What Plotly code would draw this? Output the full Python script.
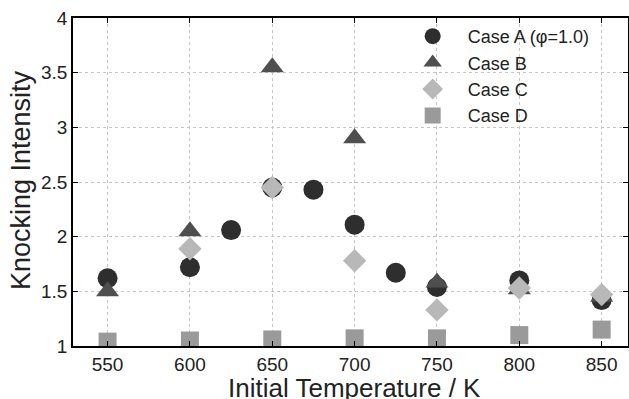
import plotly.graph_objects as go

# Data
temp_a = [550, 600, 625, 650, 675, 700, 725, 750, 800, 850]
case_a = [1.62, 1.72, 2.06, 2.45, 2.43, 2.11, 1.67, 1.54, 1.60, 1.42]

temp_b = [550, 600, 650, 700, 750, 800, 850]
case_b = [1.50, 2.05, 3.55, 2.90, 1.58, 1.52, 1.45]

temp_c = [600, 650, 700, 750, 800, 850]
case_c = [1.89, 2.45, 1.78, 1.33, 1.53, 1.47]

temp_d = [550, 600, 650, 700, 750, 800, 850]
case_d = [1.04, 1.05, 1.06, 1.07, 1.07, 1.10, 1.15]

x_ticks = [550, 600, 650, 700, 750, 800, 850]
y_ticks = [1, 1.5, 2, 2.5, 3, 3.5, 4]
y_tick_labels = ["1", "1.5", "2", "2.5", "3", "3.5", "4"]

FONT = "Liberation Sans, Arial, sans-serif"

fig = go.Figure()
fig.add_trace(go.Scatter(x=temp_a, y=case_a, mode="markers", name="Case A (φ=1.0)",
                         marker=dict(symbol="circle", size=20, color="#2e2e2e")))
fig.add_trace(go.Scatter(x=temp_b, y=case_b, mode="markers", name="Case B",
                         marker=dict(symbol="triangle-up", size=20, color="#4f4f4f")))
fig.add_trace(go.Scatter(x=temp_c, y=case_c, mode="markers", name="Case C",
                         marker=dict(symbol="diamond", size=18, color="#b8b8b8")))
fig.add_trace(go.Scatter(x=temp_d, y=case_d, mode="markers", name="Case D",
                         marker=dict(symbol="square", size=18, color="#9a9a9a")))

axis_common = dict(
    showline=True, linecolor="black", linewidth=1.5, mirror="ticks",
    ticks="inside", ticklen=5, tickcolor="black",
    showgrid=True, gridcolor="#c4c4c4", griddash="dot", gridwidth=1,
    zeroline=False,
    tickfont=dict(family=FONT, size=19, color="#222"),
)

fig.update_layout(
    width=629, height=399,
    margin=dict(l=73, r=1, t=18, b=53),
    paper_bgcolor="white", plot_bgcolor="white",
    font=dict(family=FONT, color="#222"),
    xaxis=dict(range=[529, 866], tickvals=x_ticks, automargin=False, **axis_common),
    yaxis=dict(range=[1, 4], tickvals=y_ticks, ticktext=y_tick_labels, automargin=False, **axis_common),
    showlegend=True,
    legend=dict(x=0.585, y=1.0, xanchor="left", yanchor="top",
                bgcolor="rgba(0,0,0,0)", font=dict(family=FONT, size=18, color="#222"),
                itemwidth=60, tracegroupgap=0),
    annotations=[
        dict(text="Initial Temperature / K", xref="paper", yref="paper", x=0.507, y=0,
             xanchor="center", yanchor="top", yshift=-25, showarrow=False,
             font=dict(family=FONT, size=26, color="#222")),
        dict(text="Knocking Intensity", xref="paper", yref="paper", x=0, y=0.506,
             xanchor="center", yanchor="middle", xshift=-52, textangle=-90, showarrow=False,
             font=dict(family=FONT, size=27, color="#222")),
    ],
)

fig.write_html("out.html", config={"displayModeBar": False},
               post_script="document.body.style.margin='0';")
